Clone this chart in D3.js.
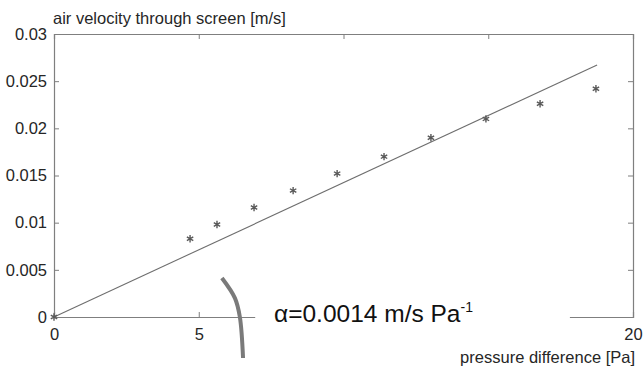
<!DOCTYPE html>
<html>
<head>
<meta charset="utf-8">
<script src="https://cdn.jsdelivr.net/npm/d3@7"></script>
<style>
  body { margin: 0; background: #fff; }
  text { font-family: "Liberation Sans", Arial, sans-serif; }
</style>
</head>
<body>
<svg id="chart" width="644" height="376"></svg>
<script>
// measured points: pressure difference [Pa] vs air velocity [m/s]
const pressure = [0, 4.70, 5.63, 6.91, 8.26, 9.78, 11.40, 13.02, 14.92, 16.79, 18.72];
const velocity = [0, 0.0083, 0.0098, 0.0116, 0.0134, 0.0152, 0.0170, 0.0190, 0.0210, 0.0226, 0.0242];
const fitSlope = 0.001424;
const xTicks = [0, 5, 10, 15, 20];
const xTicksCovered = [10, 15]; // labels hidden behind the annotation box
const yTicks = [0, 0.005, 0.01, 0.015, 0.02, 0.025, 0.03];
// annotation arc, in data units
const arcX = [5.80, 6.25, 6.42, 6.53];
const arcY = [0.00413, 0.0020, 0, -0.00435];

const AXIS = "#7f7f7f";
const TEXT = "#262626";
const MARK = "#595959";
const FONT = 16.5;

const margin = { left: 54, right: 11, top: 34, bottom: 59 };
const width = 644, height = 376;
const contentsWidth = width - margin.left - margin.right;
const contentsHeight = height - margin.top - margin.bottom;

const x = d3.scaleLinear().domain([0, 20]).range([0, contentsWidth]);
const y = d3.scaleLinear().domain([0, 0.03]).range([contentsHeight, 0]);

const svg = d3.select("#chart");
const g = svg.append("g").attr("transform", `translate(${margin.left},${margin.top})`);

// axes (box with inward ticks on all sides)
const tickLen = 5;
const fmtX = d => xTicksCovered.includes(d) ? "" : String(d);
const fmtY = d => d === 0 ? "0" : String(+d.toFixed(3));
const axisB = g.append("g").attr("transform", `translate(0,${contentsHeight})`)
    .call(d3.axisBottom(x).tickValues(xTicks).tickSize(-tickLen).tickPadding(11).tickFormat(fmtX));
const axisT = g.append("g")
    .call(d3.axisTop(x).tickValues(xTicks).tickSize(-tickLen).tickFormat(""));
const axisL = g.append("g")
    .call(d3.axisLeft(y).tickValues(yTicks).tickSize(-tickLen).tickPadding(7).tickFormat(fmtY));
const axisR = g.append("g").attr("transform", `translate(${contentsWidth},0)`)
    .call(d3.axisRight(y).tickValues(yTicks).tickSize(-tickLen).tickFormat(""));

[axisB, axisT, axisL, axisR].forEach(a => {
    a.select(".domain").attr("stroke", AXIS).attr("stroke-width", 1.2);
    a.selectAll(".tick line").attr("stroke", AXIS);
    a.selectAll(".tick text").attr("fill", TEXT).attr("font-size", FONT)
        .attr("font-family", "Liberation Sans, Arial, sans-serif");
});

// fit line
const xMax = d3.max(pressure);
g.append("line")
    .attr("x1", x(0)).attr("y1", y(0))
    .attr("x2", x(xMax + 0.04)).attr("y2", y(fitSlope * (xMax + 0.04)))
    .attr("stroke", "#6e6e6e").attr("stroke-width", 1.1);

// asterisk markers
const star = d3.symbol().type(d3.symbolAsterisk).size(38);
g.selectAll("path.pt").data(pressure.map((p, i) => [p, velocity[i]]))
  .enter().append("path")
    .attr("class", "pt")
    .attr("d", star)
    .attr("transform", d => `translate(${x(d[0])},${y(d[1])})`)
    .attr("fill", "none")
    .attr("stroke", MARK)
    .attr("stroke-width", 1.4);

// annotation: white box over the bottom axis, arc, label
g.append("rect")
    .attr("class", "note-bg")
    .attr("x", x(6.95)).attr("y", y(0.0029))
    .attr("width", x(17.82) - x(6.95))
    .attr("height", y(-0.003) - y(0.0029))
    .attr("fill", "#fff");

g.append("path")
    .datum(arcX.map((v, i) => [v, arcY[i]]))
    .attr("d", d3.line().x(d => x(d[0])).y(d => y(d[1])).curve(d3.curveCatmullRom))
    .attr("fill", "none")
    .attr("stroke", "#7a7a7a")
    .attr("stroke-width", 4);

const label = g.append("text")
    .attr("x", x(7.6)).attr("y", y(-0.00053))
    .attr("font-size", 24.5)
    .attr("fill", "#111");
label.append("tspan").text("α=0.0014 m/s Pa");
label.append("tspan").attr("dy", -10).attr("font-size", 14).text("-1");

// axis titles
svg.append("text")
    .attr("x", margin.left - 1).attr("y", 24)
    .attr("font-size", FONT).attr("fill", TEXT)
    .text("air velocity through screen [m/s]");
svg.append("text")
    .attr("x", 635).attr("y", 363)
    .attr("text-anchor", "end")
    .attr("font-size", FONT).attr("fill", TEXT)
    .text("pressure difference [Pa]");
</script>
</body>
</html>
